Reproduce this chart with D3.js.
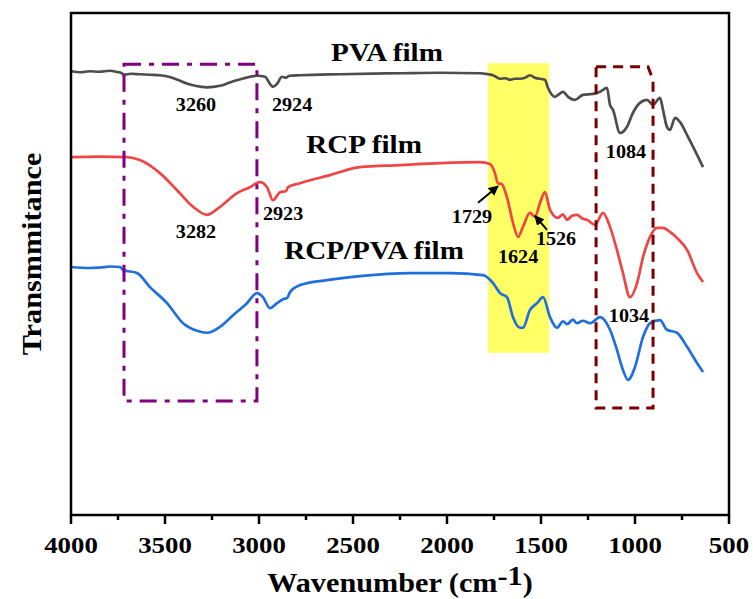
<!DOCTYPE html>
<html>
<head>
<meta charset="utf-8">
<script src="https://cdn.jsdelivr.net/npm/d3@7"></script>
<style>
  body { margin: 0; background: #fff; }
  text { font-family: "Liberation Serif", "Times New Roman", serif; font-weight: bold; fill: #000; }
</style>
</head>
<body>
<svg id="chart" width="753" height="599"></svg>
<script>
// wavenumbers (cm-1) and transmittance (offset, a.u.)
const pvaWn = [4000, 3950, 3899, 3850, 3793, 3760, 3729, 3723, 3680, 3633, 3580, 3527, 3470, 3420, 3380, 3340, 3277, 3207, 3160, 3128, 3080, 3048, 3011, 2968, 2942, 2926, 2904, 2878, 2856, 2840, 2782, 2569, 2250, 2037, 1825, 1782, 1755, 1718, 1690, 1665, 1640, 1612, 1585, 1559, 1532, 1479, 1463, 1426, 1383, 1356, 1319, 1277, 1223, 1186, 1149, 1133, 1117, 1080, 1043, 1011, 974, 936, 904, 867, 851, 830, 814, 787, 761, 718, 638];
const pvaT = [88.4, 88.2, 88.4, 88.3, 88.5, 88.3, 88.0, 87.7, 87.9, 87.8, 87.7, 87.6, 87.2, 86.5, 85.9, 85.5, 85.2, 85.5, 86.1, 86.5, 87.0, 87.3, 87.5, 87.3, 85.9, 85.3, 85.9, 87.3, 87.1, 87.5, 87.6, 87.8, 88.0, 88.1, 88.0, 87.8, 87.6, 86.9, 87.0, 86.7, 86.9, 86.9, 87.1, 87.6, 87.1, 86.7, 85.1, 83.3, 84.3, 83.3, 82.7, 83.7, 83.9, 84.3, 85.1, 81.7, 80.7, 76.1, 77.3, 80.1, 82.1, 82.7, 81.7, 83.1, 80.7, 77.3, 76.7, 79.1, 78.3, 75.3, 69.3];

const rcpWn = [4000, 3846, 3702, 3633, 3527, 3436, 3351, 3277, 3207, 3117, 3048, 2995, 2957, 2926, 2888, 2856, 2846, 2782, 2622, 2463, 2250, 2037, 1825, 1771, 1745, 1729, 1708, 1681, 1649, 1622, 1596, 1559, 1532, 1505, 1479, 1452, 1410, 1383, 1362, 1335, 1309, 1277, 1255, 1213, 1170, 1133, 1096, 1064, 1027, 989, 957, 920, 883, 851, 814, 777, 723, 670, 638];
const rcpT = [71.3, 71.4, 71.3, 70.7, 68.1, 64.7, 61.4, 59.8, 61.4, 64.1, 65.3, 66.3, 65.3, 62.7, 64.3, 64.5, 65.3, 66.1, 67.7, 69.3, 69.7, 70.1, 70.3, 69.9, 68.1, 66.1, 65.9, 63.3, 58.2, 55.4, 57.4, 60.2, 59.4, 62.2, 64.3, 60.8, 59.2, 59.9, 58.8, 59.6, 59.8, 59.0, 58.8, 57.8, 60.2, 57.4, 52.8, 48.2, 43.4, 46.2, 51.4, 55.4, 57.2, 57.2, 56.4, 55.2, 52.8, 48.2, 46.4];

const blendWn = [4000, 3900, 3846, 3790, 3739, 3723, 3649, 3580, 3489, 3404, 3330, 3277, 3207, 3138, 3064, 3011, 2979, 2942, 2904, 2872, 2851, 2835, 2782, 2638, 2463, 2197, 1984, 1809, 1755, 1718, 1681, 1649, 1612, 1596, 1559, 1521, 1489, 1452, 1415, 1383, 1362, 1330, 1309, 1277, 1239, 1186, 1133, 1096, 1064, 1037, 1000, 957, 920, 867, 830, 777, 723, 670, 638];
const blendT = [49.4, 49.2, 49.3, 49.5, 49.4, 48.8, 48.2, 45.4, 42.2, 38.2, 36.7, 36.3, 37.5, 39.8, 42.2, 44.2, 43.4, 41.2, 42.2, 43.0, 43.2, 44.4, 45.8, 46.8, 47.6, 48.2, 48.2, 47.8, 46.2, 44.2, 43.4, 39.4, 37.3, 37.3, 40.8, 42.2, 43.4, 39.4, 37.3, 38.6, 38.0, 38.9, 38.2, 38.7, 38.2, 39.4, 36.9, 32.9, 28.9, 26.9, 29.5, 35.5, 38.2, 38.8, 36.9, 36.3, 33.5, 30.3, 28.5];

const seriesNames = ["PVA film", "RCP film", "RCP/PVA film"];
const seriesColors = ["#4d4d4d", "#f04545", "#1f6fdf"];
const xTicks = [4000, 3500, 3000, 2500, 2000, 1500, 1000, 500];

// peak labels: [text, wavenumber, value]
const peakLabels = [
    ["3260", 3335, 80.5], ["2924", 2824, 80.5],
    ["3282", 3335, 55.2], ["2923", 2872, 58.8],
    ["1729", 1867, 58.2], ["1624", 1622, 50.2], ["1526", 1420, 53.8],
    ["1084", 1048, 71.1], ["1034", 1032, 38.4]
];
const nameLabels = [[2319, 90.4], [2441, 72.1], [2388, 51.0]];

const margin = { top: 13, bottom: 84, left: 71, right: 24 };
const dims = { width: 753 - margin.left - margin.right, height: 599 - margin.top - margin.bottom };
const stretch = 1.12;

var x = d3.scaleLinear().domain([4000, 500]).range([0, dims.width]);
var y = d3.scaleLinear().domain([0, 100]).range([dims.height, 0]);

var svg = d3.select('#chart');
var g = svg.append('g').attr('transform', `translate(${margin.left}, ${margin.top})`);

// highlighted band
g.append('rect')
 .attr('x', x(1782)).attr('width', x(1457) - x(1782))
 .attr('y', y(90.0)).attr('height', y(32.3) - y(90.0))
 .attr('fill', '#ffff66');

// curves
var line = d3.line().x(d => x(d[0])).y(d => y(d[1])).curve(d3.curveMonotoneX);
[[pvaWn, pvaT], [rcpWn, rcpT], [blendWn, blendT]].forEach(function (s, i) {
    g.append('path')
     .datum(d3.zip(s[0], s[1]))
     .attr('d', line)
     .attr('fill', 'none')
     .attr('stroke', seriesColors[i])
     .attr('stroke-width', 2.7)
     .attr('stroke-linejoin', 'round');
});

// purple box
g.append('rect')
 .attr('x', x(3718)).attr('width', x(3011) - x(3718))
 .attr('y', y(89.8)).attr('height', y(22.7) - y(89.8))
 .attr('fill', 'none').attr('stroke', '#800080').attr('stroke-width', 3)
 .attr('stroke-dasharray', '17,8,5,8');

// dark red box
g.append('path')
 .attr('d', `M${x(1207)},${y(89.3)}H${x(931)}L${x(904)},${y(86.7)}V${y(21.3)}H${x(1207)}Z`)
 .attr('fill', 'none').attr('stroke', '#7a0000').attr('stroke-width', 3)
 .attr('stroke-dasharray', '10,7');

// arrows
svg.append('defs').append('marker')
   .attr('id', 'head').attr('viewBox', '0 0 10 10')
   .attr('refX', 9).attr('refY', 5)
   .attr('markerWidth', 5).attr('markerHeight', 5)
   .attr('orient', 'auto')
   .append('path').attr('d', 'M0,0L10,5L0,10Z').attr('fill', '#000');
[[1835, 62.2, 1729, 65.5], [1468, 56.8, 1532, 59.6]].forEach(function (a) {
    g.append('line')
     .attr('x1', x(a[0])).attr('y1', y(a[1]))
     .attr('x2', x(a[2])).attr('y2', y(a[3]))
     .attr('stroke', '#000').attr('stroke-width', 2)
     .attr('marker-end', 'url(#head)');
});

// text labels
function label(parent, txt, px, py, size) {
    return parent.append('text')
                 .attr('transform', `translate(${px},${py}) scale(${stretch},1)`)
                 .attr('text-anchor', 'middle')
                 .style('font-size', size + 'px')
                 .text(txt);
}
peakLabels.forEach(d => label(g, d[0], x(d[1]), y(d[2]), 18));
nameLabels.forEach((d, i) => label(g, seriesNames[i], x(d[0]), y(d[1]), 26));

// frame
g.append('rect')
 .attr('width', dims.width).attr('height', dims.height)
 .attr('fill', 'none').attr('stroke', '#000').attr('stroke-width', 2.5);

// bottom axis
var axis = g.append('g').attr('transform', `translate(0, ${dims.height})`);
d3.range(4000, 499, -250).forEach(function (v) {
    var major = xTicks.includes(v);
    axis.append('line')
        .attr('x1', x(v)).attr('x2', x(v))
        .attr('y1', 0).attr('y2', major ? 9 : 5)
        .attr('stroke', '#000').attr('stroke-width', 2.5);
});
xTicks.forEach(v => label(axis, v, x(v), 38, 24));

// axis titles
var title = svg.append('text')
               .attr('transform', `translate(${margin.left + dims.width / 2}, 592) scale(${stretch},1)`)
               .attr('text-anchor', 'middle')
               .style('font-size', '27px');
title.append('tspan').text('Wavenumber (cm');
title.append('tspan').attr('dy', -7).text('-1');
title.append('tspan').attr('dy', 7).text(')');

svg.append('text')
   .attr('transform', `translate(41, 254) rotate(-90) scale(${stretch},1)`)
   .attr('text-anchor', 'middle')
   .style('font-size', '27px')
   .text('Transmmitance');
</script>
</body>
</html>
